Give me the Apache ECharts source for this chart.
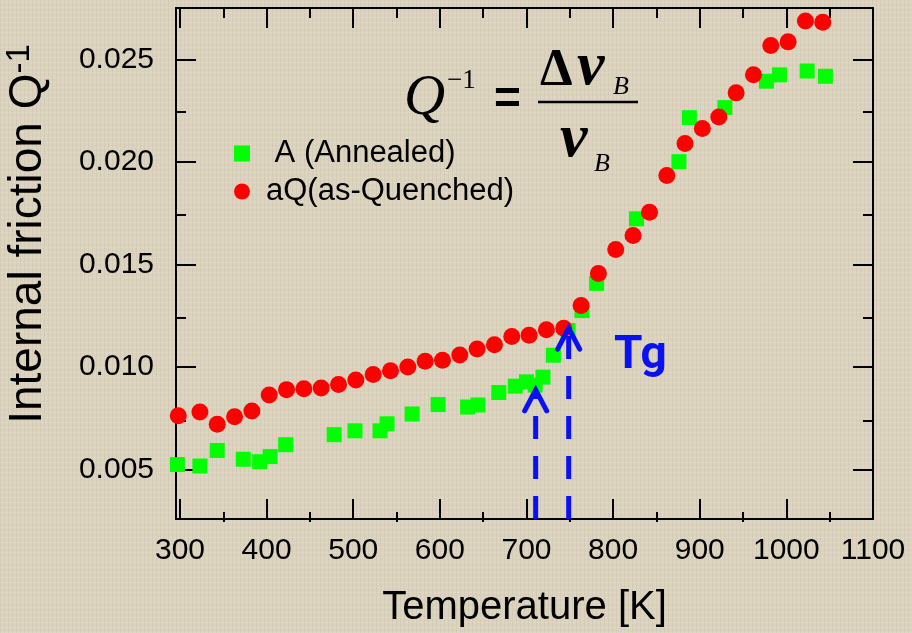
<!DOCTYPE html>
<html><head><meta charset="utf-8">
<script src="https://cdn.jsdelivr.net/npm/echarts@6/dist/echarts.min.js"></script>
<style>
html,body{margin:0;padding:0;background-color:#dcd3be;}
body{background-image:repeating-linear-gradient(90deg,rgba(110,100,80,0.07) 0 1px,transparent 1px 4px),repeating-linear-gradient(0deg,rgba(255,255,255,0.10) 0 1px,transparent 1px 5px);}
#c{width:912px;height:633px;}
</style></head><body><div id="c"></div>
<script>
// Annealed (A)
const tempA = [297, 323, 343, 373, 392, 404, 422, 478, 502, 531, 539, 568, 598, 632, 644, 668, 687, 700, 710, 719, 731, 748, 764, 781, 827, 876, 888, 929, 977, 992, 1024, 1045];
const qA    = [0.00523, 0.00516, 0.00592, 0.00549, 0.00537, 0.00562, 0.00620, 0.00669, 0.00688, 0.00688, 0.00722, 0.00770, 0.00816, 0.00804, 0.00814, 0.00875, 0.00906, 0.00927, 0.00911, 0.00950, 0.01057, 0.01178, 0.01275, 0.01408, 0.01723, 0.02002, 0.02217, 0.02266, 0.02395, 0.02426, 0.02445, 0.02419];
// as-Quenched (aQ)
const tempQ = [298, 323, 343, 363, 383, 403, 423, 443, 463, 483, 503, 523, 543, 563, 583, 603, 623, 643, 663, 683, 703, 723, 743, 763, 783, 803, 823, 842, 862, 883, 903, 922, 942, 962, 982, 1002, 1022, 1042];
const qQ    = [0.00761, 0.00780, 0.00720, 0.00757, 0.00785, 0.00863, 0.00889, 0.00893, 0.00897, 0.00914, 0.00936, 0.00963, 0.00981, 0.00999, 0.01028, 0.01033, 0.01058, 0.01087, 0.01108, 0.01148, 0.01154, 0.01181, 0.01189, 0.01300, 0.01456, 0.01573, 0.01642, 0.01755, 0.01935, 0.02091, 0.02164, 0.02220, 0.02338, 0.02426, 0.02569, 0.02587, 0.02689, 0.02683];
// Tg arrows (temperature, arrow tip value)
const arrowT = [710.6, 748.7];
const arrowQ = [0.00888, 0.01189];
// axis ticks
const xTicks = [300, 400, 500, 600, 700, 800, 900, 1000, 1100];
const xMinorTicks = [350, 450, 550, 650, 750, 850, 950, 1050];
const yTicks = [0.005, 0.010, 0.015, 0.020, 0.025];
const yMinorTicks = [0.0075, 0.0125, 0.0175, 0.0225];
const seriesNames = ['A (Annealed)', 'aQ(as-Quenched)'];
const xTitle = 'Temperature [K]';
const yTitleMain = 'Internal friction Q';
const yTitleSup = '-1';

const X_MIN = 295.4, X_MAX = 1100, Y_MIN = 0.002573, Y_MAX = 0.027524;
const SANS = '"Liberation Sans", Arial, sans-serif';
const SERIF = '"Liberation Serif", "Times New Roman", serif';
const BLUE = '#0a10f5';

function xAx(grid, pos, ticks, len, opts) {
  return Object.assign({
    type: 'value', gridIndex: grid, position: pos, min: X_MIN, max: X_MAX,
    axisLine: { show: grid === 0, onZero: false, lineStyle: { color: '#000', width: 2 } },
    axisTick: { show: true, inside: true, length: len, customValues: ticks, lineStyle: { color: '#000', width: 2 } },
    axisLabel: { show: false }, splitLine: { show: false }
  }, opts || {});
}
function yAx(grid, pos, ticks, len, opts) {
  return Object.assign({
    type: 'value', gridIndex: grid, position: pos, min: Y_MIN, max: Y_MAX,
    axisLine: { show: grid === 0, onZero: false, lineStyle: { color: '#000', width: 2 } },
    axisTick: { show: true, inside: true, length: len, customValues: ticks, lineStyle: { color: '#000', width: 2 } },
    axisLabel: { show: false }, splitLine: { show: false }
  }, opts || {});
}

const chart = echarts.init(document.getElementById('c'), null, { renderer: 'canvas' });
const gridPos = { left: 176, top: 8, right: 39, bottom: 111 };
chart.setOption({
  backgroundColor: 'transparent',
  animation: false,
  grid: [Object.assign({}, gridPos), Object.assign({}, gridPos)],
  xAxis: [
    xAx(0, 'bottom', xTicks, 20, {
      axisLabel: { show: true, customValues: xTicks, margin: 17, fontSize: 30, fontFamily: SANS, color: '#000',
        formatter: v => String(v) },
      name: xTitle, nameLocation: 'middle', nameGap: 69,
      nameTextStyle: { fontSize: 40, fontFamily: SANS, color: '#000' }
    }),
    xAx(0, 'top', xTicks, 20),
    xAx(1, 'bottom', xMinorTicks, 10),
    xAx(1, 'top', xMinorTicks, 10)
  ],
  yAxis: [
    yAx(0, 'left', yTicks, 20, {
      axisLabel: { show: true, customValues: yTicks, margin: 22, fontSize: 30, fontFamily: SANS, color: '#000',
        formatter: v => v.toFixed(3) }
    }),
    yAx(0, 'right', yTicks, 20),
    yAx(1, 'left', yMinorTicks, 10),
    yAx(1, 'right', yMinorTicks, 10)
  ],
  legend: {
    orient: 'vertical', left: 229, top: 133, itemWidth: 16, itemHeight: 16, itemGap: 7,
    data: [{ name: seriesNames[0], icon: 'rect' }, { name: seriesNames[1], icon: 'circle' }],
    formatter: n => (n === seriesNames[0] ? ' ' + n : n),
    textStyle: { fontSize: 31, lineHeight: 31, fontFamily: SANS, color: '#000', padding: [0, 0, 0, 11] }
  },
  series: [
    { name: seriesNames[0], type: 'scatter', xAxisIndex: 0, yAxisIndex: 0, symbol: 'rect', symbolSize: 15,
      itemStyle: { color: '#00ff00', opacity: 1 }, z: 3,
      data: tempA.map((t, i) => [t, qA[i]]) },
    { name: seriesNames[1], type: 'scatter', xAxisIndex: 0, yAxisIndex: 0, symbol: 'circle', symbolSize: 17,
      itemStyle: { color: '#ff0000', opacity: 1 }, z: 4,
      data: tempQ.map((t, i) => [t, qQ[i]]) },
    { name: 'Tg arrows', type: 'custom', xAxisIndex: 0, yAxisIndex: 0, z: 5, silent: true,
      data: arrowT.map((t, i) => [t, arrowQ[i]]),
      renderItem: function (params, api) {
        const tip = api.coord([api.value(0), api.value(1)]);
        const cs = params.coordSys;
        const bottom = cs.y + cs.height;
        return { type: 'group', children: [
          { type: 'line', shape: { x1: tip[0], y1: bottom, x2: tip[0], y2: tip[1] },
            style: { stroke: BLUE, lineWidth: 5, lineDash: [23, 17], fill: null } },
          { type: 'polyline', shape: { points: [[tip[0] - 11, tip[1] + 21], [tip[0], tip[1]], [tip[0] + 11, tip[1] + 21]] },
            style: { stroke: BLUE, lineWidth: 5, fill: null, lineJoin: 'miter', lineCap: 'round' } }
        ] };
      }
    }
  ],
  graphic: [
    { type: 'text', x: 28, y: 234, rotation: Math.PI / 2,
      style: { text: '{a|' + yTitleMain + '}{b|' + yTitleSup + '}', align: 'center', verticalAlign: 'middle',
        rich: { a: { fontSize: 46, fontFamily: SANS, fill: '#000', lineHeight: 50 },
                b: { fontSize: 33, fontFamily: SANS, fill: '#000', verticalAlign: 'top', lineHeight: 33 } } } },
    // formula Q^-1 = Δν_B / ν_B
    { type: 'text', x: 404, y: 99, style: { text: 'Q', font: 'italic 57px ' + SERIF, fill: '#000', verticalAlign: 'middle' } },
    { type: 'text', x: 447, y: 81, style: { text: '\u22121', font: '27px ' + SERIF, fill: '#000', verticalAlign: 'middle' } },
    { type: 'text', x: 494, y: 100, style: { text: '=', font: 'bold 46px ' + SANS, fill: '#000', verticalAlign: 'middle' } },
    { type: 'line', shape: { x1: 538, y1: 102, x2: 638, y2: 102 }, style: { stroke: '#000', lineWidth: 2.5 } },
    { type: 'text', x: 540, y: 72, style: { text: '\u0394', font: 'bold 52px ' + SERIF, fill: '#000', verticalAlign: 'middle' } },
    { type: 'text', x: 577, y: 68, style: { text: '\u03BD', font: 'bold italic 62px ' + SERIF, fill: '#000', verticalAlign: 'middle' } },
    { type: 'text', x: 613, y: 87, style: { text: 'B', font: 'italic 26px ' + SERIF, fill: '#000', verticalAlign: 'middle' } },
    { type: 'text', x: 560, y: 140, style: { text: '\u03BD', font: 'bold italic 62px ' + SERIF, fill: '#000', verticalAlign: 'middle' } },
    { type: 'text', x: 594, y: 164, style: { text: 'B', font: 'italic 26px ' + SERIF, fill: '#000', verticalAlign: 'middle' } },
    // Tg label
    { type: 'text', x: 614, y: 356, style: { text: 'Tg', font: 'bold 46px Roboto, Lato, sans-serif', fill: BLUE, verticalAlign: 'middle' } }
  ]
});
</script></body></html>
